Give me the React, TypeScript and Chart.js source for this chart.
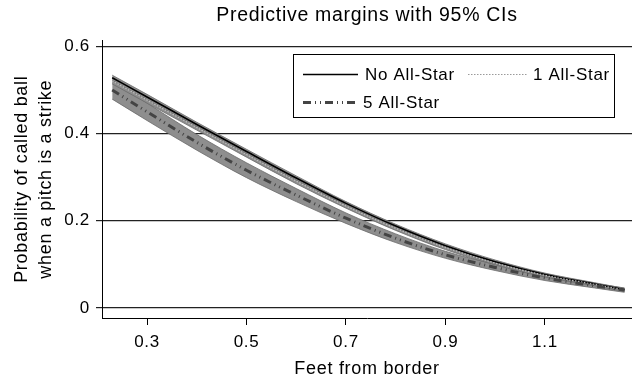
import React, { useEffect, useRef } from 'react';
import { Chart, registerables } from 'chart.js';

Chart.register(...registerables);

// ---- data ----
const X_VALUES = [0.23, 0.3, 0.4, 0.5, 0.6, 0.7, 0.8, 0.9, 1.0, 1.1, 1.2, 1.26];

const NO_ALLSTAR = [0.528, 0.484, 0.421, 0.359, 0.298, 0.240, 0.188, 0.143, 0.106, 0.077, 0.055, 0.042];
const NO_ALLSTAR_LO = [0.522, 0.478, 0.416, 0.354, 0.293, 0.236, 0.184, 0.139, 0.102, 0.074, 0.052, 0.039];
const NO_ALLSTAR_HI = [0.534, 0.490, 0.426, 0.364, 0.303, 0.244, 0.192, 0.147, 0.110, 0.080, 0.058, 0.045];

const ONE_ALLSTAR = [0.521, 0.477, 0.414, 0.352, 0.291, 0.234, 0.183, 0.139, 0.103, 0.075, 0.054, 0.041];
const ONE_ALLSTAR_LO = [0.514, 0.470, 0.408, 0.346, 0.285, 0.229, 0.178, 0.134, 0.099, 0.071, 0.051, 0.038];
const ONE_ALLSTAR_HI = [0.528, 0.484, 0.420, 0.358, 0.297, 0.239, 0.188, 0.144, 0.107, 0.079, 0.057, 0.044];

const FIVE_ALLSTAR = [0.500, 0.450, 0.380, 0.316, 0.259, 0.206, 0.160, 0.122, 0.093, 0.069, 0.051, 0.041];
const FIVE_ALLSTAR_LO = [0.479, 0.430, 0.362, 0.299, 0.244, 0.194, 0.150, 0.114, 0.086, 0.063, 0.046, 0.036];
const FIVE_ALLSTAR_HI = [0.521, 0.470, 0.398, 0.333, 0.274, 0.218, 0.170, 0.130, 0.100, 0.075, 0.056, 0.046];

const SERIES_LABELS = ['No All-Star', '1 All-Star', '5 All-Star'];
const X_TICKS = [0.3, 0.5, 0.7, 0.9, 1.1];
const Y_TICKS = [0, 0.2, 0.4, 0.6];

const TITLE = 'Predictive margins with 95% CIs';
const X_TITLE = 'Feet from border';
const Y_TITLE = ['Probability of called ball', 'when a pitch is a strike'];

// ---- styles ----
const FONT = "'Liberation Sans', Arial, Helvetica, sans-serif";
const SPACING = '0.7px';
const BAND_FILL = '#8e8e8e';
const BAND_EDGE = '#6a6a6a';
const LINE_STYLES = [
  { color: '#000000', width: 1.6, dash: [] as number[] },
  { color: '#bcbcbc', width: 1.3, dash: [1.5, 1.5] },
  { color: '#444444', width: 3, dash: [8, 4, 1, 4, 1, 4] },
];

const pts = (ys: number[]) => X_VALUES.map((x, i) => ({ x, y: ys[i] }));

const band = (lo: number[], hi: number[]) => [
  {
    label: 'lo',
    data: pts(lo),
    borderColor: BAND_EDGE,
    borderWidth: 0.8,
    pointRadius: 0,
    fill: false,
    cubicInterpolationMode: 'monotone',
    order: 10,
  },
  {
    label: 'hi',
    data: pts(hi),
    borderColor: BAND_EDGE,
    borderWidth: 0.8,
    backgroundColor: BAND_FILL,
    pointRadius: 0,
    fill: '-1',
    cubicInterpolationMode: 'monotone',
    order: 10,
  },
];

const line = (ys: number[], idx: number) => ({
  label: SERIES_LABELS[idx],
  data: pts(ys),
  borderColor: LINE_STYLES[idx].color,
  borderWidth: LINE_STYLES[idx].width,
  borderDash: LINE_STYLES[idx].dash,
  pointRadius: 0,
  fill: false,
  cubicInterpolationMode: 'monotone',
  order: 3 - idx,
});

const spacingPlugin = {
  id: 'spacing',
  beforeUpdate(chart: any) {
    chart.ctx.letterSpacing = SPACING;
  },
  beforeDraw(chart: any) {
    chart.ctx.letterSpacing = SPACING;
  },
};

const legendPlugin = {
  id: 'boxLegend',
  afterDraw(chart: any) {
    const ctx = chart.ctx as CanvasRenderingContext2D;
    const a = chart.chartArea;
    const left = Math.round(a.left + 191);
    const top = Math.round(a.top + 14);
    const w = 321;
    const h = 63;
    ctx.save();
    ctx.fillStyle = '#ffffff';
    ctx.fillRect(left, top, w, h);
    ctx.strokeStyle = '#000000';
    ctx.lineWidth = 1;
    ctx.setLineDash([]);
    ctx.strokeRect(left + 0.5, top + 0.5, w, h);

    const items = [
      { idx: 0, x0: left + 10, x1: left + 65, tx: left + 72, y: top + 20 },
      { idx: 1, x0: left + 175, x1: left + 234, tx: left + 240, y: top + 20 },
      { idx: 2, x0: left + 10, x1: left + 64, tx: left + 70, y: top + 48 },
    ];
    ctx.font = `17px ${FONT}`;
    (ctx as any).letterSpacing = SPACING;
    ctx.textBaseline = 'middle';
    ctx.textAlign = 'left';
    items.forEach((it) => {
      const s = LINE_STYLES[it.idx];
      ctx.strokeStyle = it.idx === 1 ? '#9a9a9a' : s.color;
      ctx.lineWidth = it.idx === 1 ? 1 : s.width;
      ctx.setLineDash(s.dash);
      ctx.beginPath();
      ctx.moveTo(it.x0, it.y + 0.5);
      ctx.lineTo(it.x1, it.y + 0.5);
      ctx.stroke();
      ctx.setLineDash([]);
      ctx.fillStyle = '#000000';
      ctx.fillText(SERIES_LABELS[it.idx], it.tx, it.y + 1);
    });
    ctx.restore();
  },
};

export default function App() {
  const ref = useRef<HTMLCanvasElement>(null);

  useEffect(() => {
    if (!ref.current) return;
    const chart = new Chart(ref.current, {
      type: 'line',
      data: {
        datasets: [
          ...band(NO_ALLSTAR_LO, NO_ALLSTAR_HI),
          ...band(ONE_ALLSTAR_LO, ONE_ALLSTAR_HI),
          ...band(FIVE_ALLSTAR_LO, FIVE_ALLSTAR_HI),
          line(NO_ALLSTAR, 0),
          line(ONE_ALLSTAR, 1),
          line(FIVE_ALLSTAR, 2),
        ] as any,
      },
      options: {
        animation: false,
        responsive: true,
        maintainAspectRatio: false,
        layout: { padding: 0 },
        plugins: {
          legend: { display: false },
          tooltip: { enabled: false },
          title: {
            display: true,
            text: TITLE,
            fullSize: false,
            color: '#000',
            font: { family: FONT, size: 19.5, weight: 'normal', lineHeight: 1.2 },
            padding: { top: 4, bottom: 13 },
          },
        },
        scales: {
          x: {
            type: 'linear',
            min: 0.2095,
            max: 1.275,
            afterBuildTicks: (scale: any) => {
              scale.ticks = X_TICKS.map((v) => ({ value: v }));
            },
            afterFit: (scale: any) => {
              scale.height = 61;
            },
            ticks: {
              color: '#000',
              font: { family: FONT, size: 17 },
              padding: 7,
              maxRotation: 0,
              autoSkip: false,
              callback: (v: any) => Number(v).toFixed(1),
            },
            grid: {
              drawOnChartArea: false,
              drawTicks: true,
              tickLength: 7,
              color: '#000',
              lineWidth: 1,
            },
            border: { display: true, color: '#000', width: 1 },
            title: {
              display: true,
              text: X_TITLE,
              color: '#000',
              font: { family: FONT, size: 18, lineHeight: 1.0 },
              padding: { top: 0, bottom: 1 },
            },
          },
          y: {
            type: 'linear',
            min: -0.0229,
            max: 0.6137,
            afterBuildTicks: (scale: any) => {
              scale.ticks = Y_TICKS.map((v) => ({ value: v }));
            },
            afterFit: (scale: any) => {
              scale.width = 102;
            },
            ticks: {
              color: '#000',
              font: { family: FONT, size: 17 },
              padding: 6,
              autoSkip: false,
              callback: (v: any) => (Number(v) === 0 ? '0' : Number(v).toFixed(1)),
            },
            grid: {
              drawOnChartArea: true,
              drawTicks: true,
              tickLength: 6,
              color: '#222',
              lineWidth: 1.2,
            },
            border: { display: true, color: '#000', width: 1 },
            title: {
              display: true,
              text: Y_TITLE,
              color: '#000',
              font: { family: FONT, size: 18, lineHeight: 1.33 },
              padding: { top: 10, bottom: 0 },
            },
          },
        },
      } as any,
      plugins: [spacingPlugin, legendPlugin],
    });
    return () => chart.destroy();
  }, []);

  return (
    <div style={{ position: 'fixed', left: 0, top: 0, width: 632, height: 379, background: '#fff' }}>
      <canvas ref={ref} />
    </div>
  );
}
